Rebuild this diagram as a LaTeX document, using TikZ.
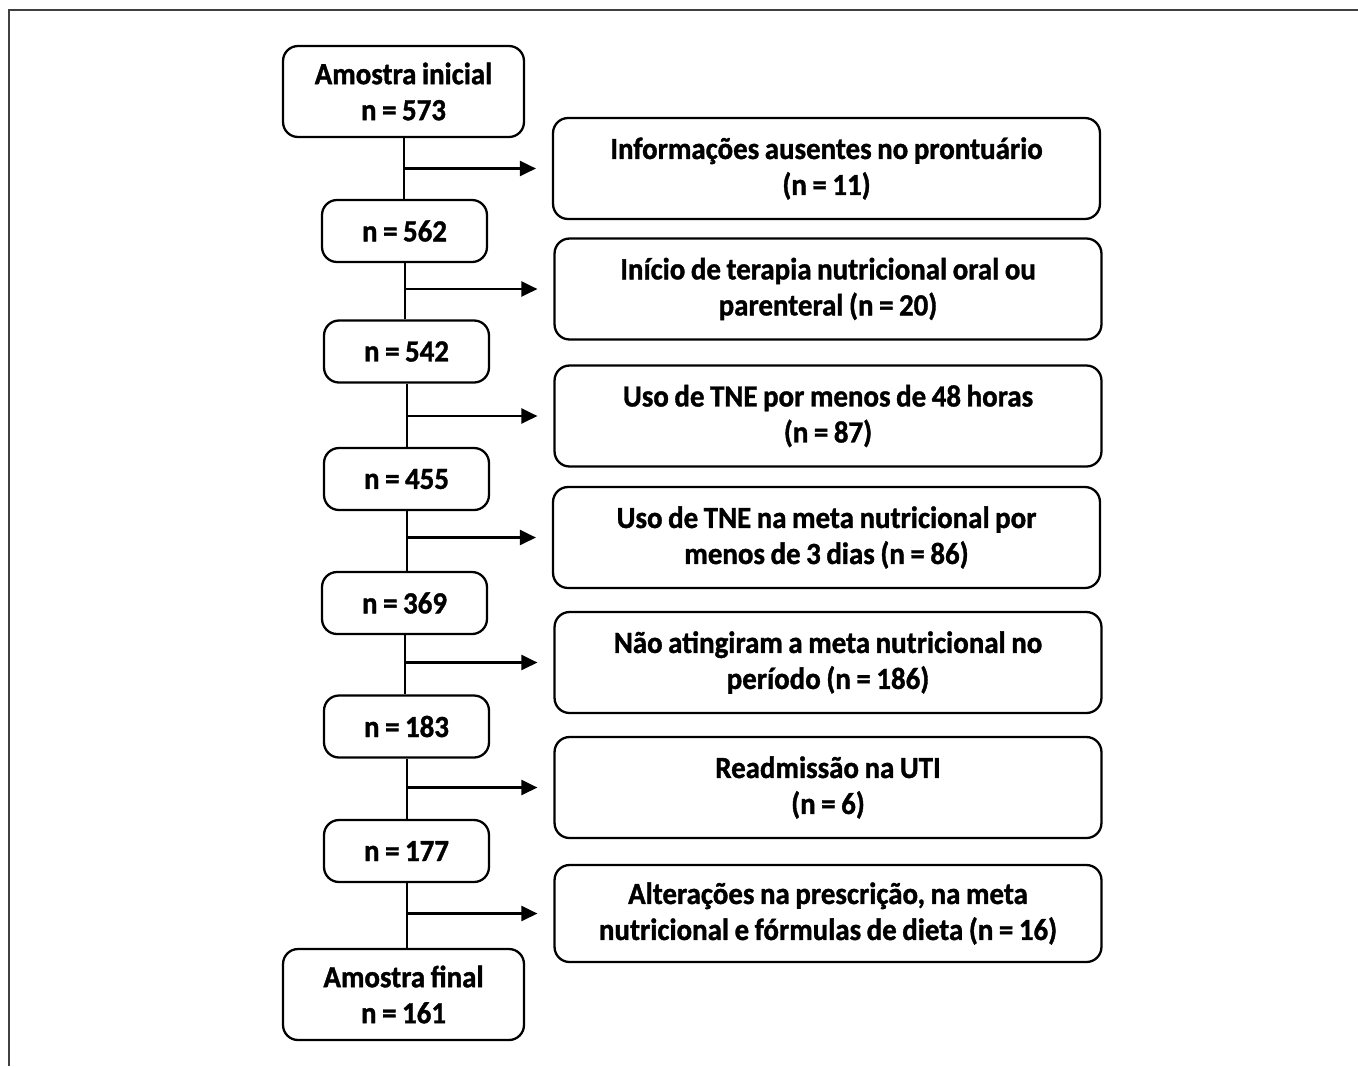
\documentclass[tikz,border=0pt]{standalone}
\usepackage{fontspec}
\setmainfont{Carlito}[FakeStretch=0.94, BoldFeatures={FakeBold=1.2}, WordSpace=0.85]
\usetikzlibrary{arrows.meta}

\tikzset{
  countbox/.style={draw, line width=1.3pt, rounded corners=0.3cm, align=center,
    minimum width=3.3cm, minimum height=1.24cm, inner sep=2pt},
  samplebox/.style={countbox, minimum width=4.82cm, minimum height=1.82cm},
  exclbox/.style={countbox, minimum width=10.94cm, minimum height=2.02cm},
  flowline/.style={line width=1.2pt},
  exclarrow/.style={line width=1.3pt, -{Triangle[length=0.32cm,width=0.3cm]}, shorten >=0.32cm}
}

\begin{document}
\begin{tikzpicture}[x=0.02cm, y=-0.02cm,
    font=\fontsize{17.5}{20.5}\selectfont\bfseries]
  \useasboundingbox (0,0) rectangle (1358,1066);
  % frame
  \draw[line width=0.9pt, black!75] (9,1066) -- (9,10) -- (1358,10);

  % sample sizes along the main line
  \node[samplebox] (a0) at (403.5,91.5) {Amostra inicial\\n = 573};
  \node[countbox] (a1) at (404.5,231) {n = 562};
  \node[countbox] (a2) at (406.5,351.5) {n = 542};
  \node[countbox] (a3) at (406.5,479) {n = 455};
  \node[countbox] (a4) at (404.5,603) {n = 369};
  \node[countbox] (a5) at (406.5,726.5) {n = 183};
  \node[countbox] (a6) at (406.5,851) {n = 177};
  \node[samplebox] (a7) at (403.5,994.5) {Amostra final\\n = 161};

  % exclusions
  \node[exclbox] (e1) at (826.5,168.5) {Informações ausentes no prontuário\\(n = 11)};
  \node[exclbox] (e2) at (828,289) {Início de terapia nutricional oral ou\\parenteral (n = 20)};
  \node[exclbox] (e3) at (828,416) {Uso de TNE por menos de 48 horas\\(n = 87)};
  \node[exclbox] (e4) at (826.5,537.5) {Uso de TNE na meta nutricional por\\menos de 3 dias (n = 86)};
  \node[exclbox] (e5) at (828,662.5) {Não atingiram a meta nutricional no\\período (n = 186)};
  \node[exclbox] (e6) at (828,787.5) {Readmissão na UTI\\(n = 6)};
  \node[exclbox, minimum height=1.94cm] (e7) at (828,913.5) {Alterações na prescrição, na meta\\nutricional e fórmulas de dieta (n = 16)};

  % main line and exclusion arrows
  \foreach \i/\j in {0/1,1/2,2/3,3/4,4/5,5/6,6/7} {
    \draw[flowline] ([xshift=0.5pt]a\i.south) -- ([xshift=0.5pt]a\i.south |- a\j.north);
  }
  \foreach \i in {1,...,7} {
    \pgfmathtruncatemacro\prev{\i-1}
    \draw[exclarrow] ([xshift=0.5pt]a\prev.south |- e\i.west) -- (e\i.west);
  }
\end{tikzpicture}
\end{document}
